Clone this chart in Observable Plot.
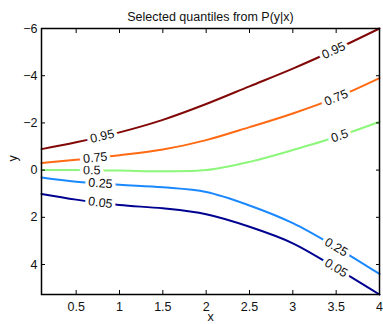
<!DOCTYPE html>
<html>
<head>
<meta charset="utf-8">
<script src="https://cdn.jsdelivr.net/npm/d3@7"></script>
<script src="https://cdn.jsdelivr.net/npm/@observablehq/plot@0.6"></script>
<style>
  html, body { margin: 0; padding: 0; background: #fff; }
  svg { font-family: "Liberation Sans", Arial, sans-serif; }
</style>
</head>
<body>
<div id="chart"></div>
<script>
// ---- data ----
const title = "Selected quantiles from P(y|x)";
const xs   = [0.1, 0.5, 1.0, 1.5, 2.0, 2.5, 3.0, 3.5, 4.0];
const q05  = [1.01, 1.25, 1.48, 1.62, 1.87, 2.40, 3.10, 4.15, 5.27];
const q25  = [0.31, 0.49, 0.62, 0.73, 0.93, 1.50, 2.25, 3.27, 4.40];
const q50  = [0.00, 0.00, 0.02, 0.05, 0.00, -0.35, -0.85, -1.40, -2.05];
const q75  = [-0.30, -0.44, -0.63, -0.87, -1.27, -1.82, -2.40, -3.07, -3.90];
const q95  = [-0.89, -1.18, -1.60, -2.13, -2.80, -3.55, -4.30, -5.12, -6.00];
const levelNames = ["0.05", "0.25", "0.5", "0.75", "0.95"];
const levelColors = ["#000090", "#1a88ff", "#8cf77a", "#ff6a12", "#820808"];
const leftLabelX  = [0.78, 0.78, 0.68, 0.72, 0.80];
const rightLabelX = [3.50, 3.50, 3.54, 3.50, 3.47];
const xTicks = [0.5, 1, 1.5, 2, 2.5, 3, 3.5, 4];
const yTicks = [-6, -4, -2, 0, 2, 4];

// ---- layout ----
const W = 383, H = 324;
const mL = 41, mR = 4, mT = 28, mB = 30;

const series = [q05, q25, q50, q75, q95];
const rows = [];
series.forEach((ys, i) => xs.forEach((x, j) => rows.push({x, y: ys[j], level: levelNames[i]})));

const allY = series.flat();
const yDomain = [d3.min(allY), d3.max(allY)];
const xDomain = [xs[0], xs[xs.length - 1]];

// pixel scales matching Plot's, used only to orient the labels
const px = d3.scaleLinear(xDomain, [mL, W - mR]);
const py = d3.scaleLinear(yDomain, [mT, H - mB]);

const labels = [];
series.forEach((ys, i) => {
  const f = d3.scaleLinear(xs, ys);
  [leftLabelX[i], rightLabelX[i]].forEach(lx => {
    const h = 0.12;
    const dxp = px(lx + h) - px(lx - h);
    const dyp = py(f(lx + h)) - py(f(lx - h));
    labels.push({x: lx, y: f(lx), text: levelNames[i], angle: Math.atan2(dyp, dxp) * 180 / Math.PI});
  });
});

const colorScale = {domain: levelNames, range: levelColors};

const chart = Plot.plot({
  width: W, height: H,
  marginLeft: mL, marginRight: mR, marginTop: mT, marginBottom: mB,
  style: {fontFamily: '"Liberation Sans", Arial, sans-serif', fontSize: "12.5px", color: "#111", background: "#fff"},
  x: {domain: xDomain, ticks: xTicks, tickFormat: "~g", label: null},
  y: {domain: yDomain, reverse: true, ticks: yTicks, label: null},
  color: colorScale,
  marks: [
    Plot.line(rows, {x: "x", y: "y", z: "level", stroke: "level", strokeWidth: 2, curve: "catmull-rom"}),
    Plot.text(labels, {x: "x", y: "y", text: "text", rotate: "angle", fontSize: 12.5, fill: "#111",
      stroke: "white", strokeWidth: 7, paintOrder: "stroke", strokeLinejoin: "round"}),
    // inward ticks on all sides
    Plot.axisX({anchor: "bottom", ticks: xTicks, tickSize: 4, dy: -4, text: null, stroke: "#000"}),
    Plot.axisX({anchor: "top", ticks: xTicks, tickSize: 4, dy: 4, text: null, stroke: "#000"}),
    Plot.axisY({anchor: "left", ticks: yTicks, tickSize: 4, dx: 4, text: null, stroke: "#000"}),
    Plot.axisY({anchor: "right", ticks: yTicks, tickSize: 4, dx: -4, text: null, stroke: "#000"}),
    // tick labels
    Plot.axisX({anchor: "bottom", ticks: xTicks, tickFormat: "~g", tickSize: 0, tickPadding: 8, label: null, fill: "#111", fontSize: 12.5}),
    Plot.axisY({anchor: "left", ticks: yTicks, tickSize: 0, tickPadding: 4, label: null, fill: "#111", fontSize: 12.5}),
    Plot.frame({stroke: "#000", strokeWidth: 1.5}),
    Plot.text([title], {frameAnchor: "top", dy: -16, fontSize: 12.5, fill: "#111"}),
    Plot.text(["x"], {frameAnchor: "bottom", dy: 26, fontSize: 12.5, fill: "#111"}),
    Plot.text(["y"], {frameAnchor: "left", dx: -29, rotate: -90, fontSize: 12.5, fill: "#111"})
  ]
});
document.getElementById("chart").appendChild(chart);
</script>
</body>
</html>
